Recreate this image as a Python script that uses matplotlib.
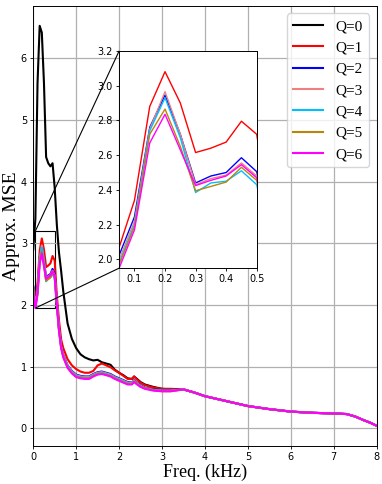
import matplotlib
matplotlib.use('Agg')
import matplotlib.pyplot as plt
from mpl_toolkits.axes_grid1.inset_locator import mark_inset

# frequency points (kHz)
freq = [0, 0.05, 0.1, 0.15, 0.2, 0.25, 0.3, 0.35, 0.4, 0.45, 0.5,
        0.55, 0.6, 0.65, 0.7, 0.8, 0.9, 1.0, 1.1, 1.2, 1.3, 1.4, 1.5,
        1.6, 1.7, 1.8, 1.9, 2.0, 2.1, 2.2, 2.3, 2.35, 2.4, 2.5, 2.6,
        2.8, 3.0, 3.2, 3.5, 3.75, 4.0, 4.5, 5.0, 5.5, 6.0, 6.5, 7.0,
        7.3, 7.5, 7.7, 7.85, 8.0]

# above ~3.5 kHz all curves coincide
tail = [0.63, 0.58, 0.52, 0.44, 0.36, 0.31, 0.27, 0.25, 0.24,
        0.23, 0.19, 0.13, 0.09, 0.04]

q0 = [2.9, 3.4, 5.6, 6.53, 6.42, 5.6, 4.4, 4.3, 4.25, 4.3, 3.9,
      3.3, 2.85, 2.55, 2.22, 1.7, 1.45, 1.3, 1.2, 1.15, 1.12, 1.1, 1.11,
      1.07, 1.05, 1.03, 0.95, 0.9, 0.86, 0.81, 0.8, 0.84, 0.81, 0.75, 0.71,
      0.67, 0.64, 0.63]
q1 = [2.3, 2.07, 2.34, 2.88, 3.08, 2.9, 2.615, 2.64, 2.675, 2.795, 2.72,
      2.15, 1.75, 1.44, 1.3, 1.12, 1.02, 0.96, 0.92, 0.9, 0.9, 0.93, 1.02,
      1.05, 1.02, 0.99, 0.94, 0.9, 0.85, 0.8, 0.8, 0.84, 0.8, 0.74, 0.7,
      0.66, 0.64, 0.64]
q2 = [2.3, 2.025, 2.245, 2.76, 2.945, 2.72, 2.44, 2.48, 2.5, 2.585, 2.505,
      2.05, 1.62, 1.34, 1.19, 1.02, 0.93, 0.87, 0.85, 0.84, 0.84, 0.88, 0.91,
      0.92, 0.9, 0.88, 0.84, 0.81, 0.78, 0.75, 0.74, 0.78, 0.75, 0.7, 0.66,
      0.63, 0.62, 0.62]
q3 = [2.27, 2.0, 2.22, 2.75, 2.965, 2.72, 2.43, 2.465, 2.485, 2.555, 2.48,
      2.04, 1.61, 1.33, 1.18, 1.01, 0.92, 0.86, 0.84, 0.83, 0.83, 0.87, 0.9,
      0.91, 0.89, 0.87, 0.83, 0.8, 0.77, 0.74, 0.73, 0.77, 0.74, 0.69, 0.65,
      0.62, 0.61, 0.61]
q4 = [2.25, 1.98, 2.2, 2.74, 2.93, 2.7, 2.385, 2.44, 2.45, 2.51, 2.43,
      2.02, 1.6, 1.32, 1.17, 1.0, 0.91, 0.85, 0.83, 0.82, 0.82, 0.86, 0.89,
      0.9, 0.88, 0.86, 0.82, 0.79, 0.76, 0.73, 0.72, 0.76, 0.73, 0.68, 0.65,
      0.62, 0.61, 0.61]
q5 = [2.23, 1.97, 2.19, 2.72, 2.865, 2.65, 2.395, 2.42, 2.445, 2.53, 2.455,
      2.01, 1.59, 1.31, 1.16, 0.99, 0.9, 0.84, 0.82, 0.81, 0.81, 0.85, 0.88,
      0.89, 0.87, 0.85, 0.81, 0.78, 0.75, 0.72, 0.72, 0.76, 0.73, 0.68, 0.65,
      0.62, 0.6, 0.6]
q6 = [2.2, 1.95, 2.17, 2.67, 2.835, 2.63, 2.425, 2.455, 2.48, 2.545, 2.47,
      2.0, 1.58, 1.3, 1.15, 0.98, 0.89, 0.83, 0.81, 0.8, 0.8, 0.84, 0.87,
      0.88, 0.86, 0.84, 0.8, 0.77, 0.74, 0.71, 0.71, 0.75, 0.72, 0.67, 0.64,
      0.61, 0.6, 0.6]

series = [q0, q1, q2, q3, q4, q5, q6]
labels = ['Q=0', 'Q=1', 'Q=2', 'Q=3', 'Q=4', 'Q=5', 'Q=6']
colors = ['black', 'red', 'blue', 'lightcoral', 'deepskyblue',
          'darkgoldenrod', 'magenta']

serif = 'Liberation Serif'

fig = plt.figure(figsize=(3.82, 4.84), dpi=100)
ax = fig.add_axes([0.087, 0.079, 0.899, 0.909])

for s, lab, c in zip(series, labels, colors):
    ax.plot(freq, s + tail, color=c, lw=1.5, label=lab)

ax.set_xlim(0, 8)
ax.grid(True, color='#b0b0b0', lw=0.9)
ax.tick_params(labelsize=7, length=2.5, width=0.6, pad=2)
for sp in ax.spines.values():
    sp.set_linewidth(0.7)
ax.set_xlabel('Freq. (kHz)', fontfamily=serif, fontsize=13, labelpad=1)
ax.set_ylabel('Approx. MSE', fontfamily=serif, fontsize=14)
ax.yaxis.set_label_coords(-13.0 / (0.899 * 382), 0.5)
ax.legend(loc='upper right', prop={'family': serif, 'size': 11})

# zoomed inset
axins = fig.add_axes([0.312, 0.446, 0.360, 0.449])
for s, c in zip(series, colors):
    axins.plot(freq, s + tail, color=c, lw=1.0)
axins.set_xlim(0.05, 0.5)
axins.set_ylim(1.95, 3.2)
axins.set_xticks([0.1, 0.2, 0.3, 0.4, 0.5])
axins.set_yticks([2.0, 2.2, 2.4, 2.6, 2.8, 3.0, 3.2])
axins.tick_params(labelsize=7, length=2.5, width=0.6, pad=2)
for sp in axins.spines.values():
    sp.set_linewidth(0.7)
mark_inset(ax, axins, loc1=2, loc2=3, fc='none', ec='0', lw=0.8)

fig.savefig('out.png', dpi=100)
